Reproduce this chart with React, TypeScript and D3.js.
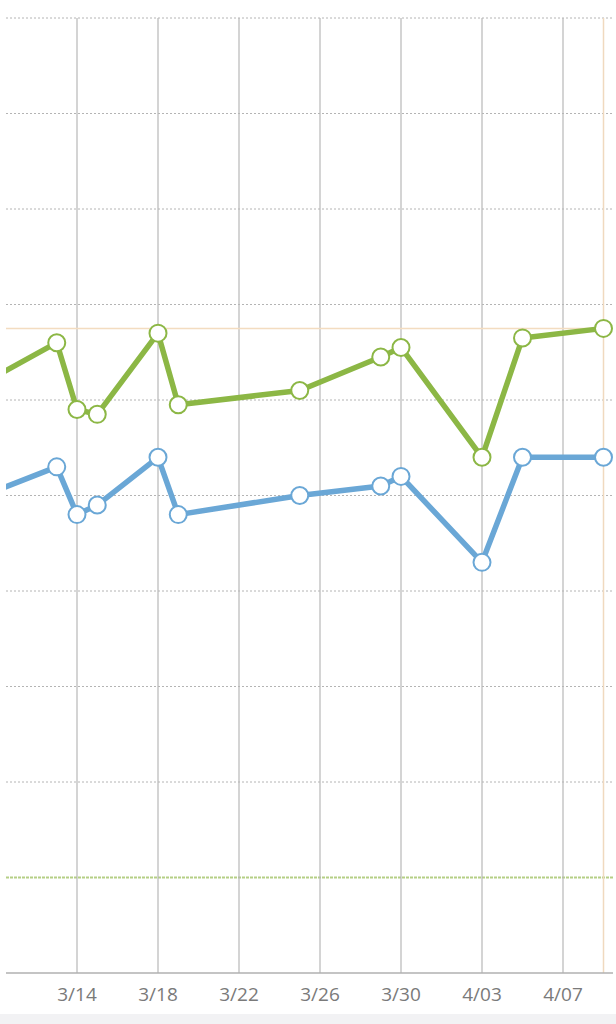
import React from "react";
import * as d3 from "d3";

const dates = ["2024-03-10", "2024-03-13", "2024-03-14", "2024-03-15", "2024-03-18", "2024-03-19", "2024-03-25", "2024-03-29", "2024-03-30", "2024-04-03", "2024-04-05", "2024-04-09"];
const greenValues = [125, 132, 118, 117, 134, 119, 122, 129, 131, 108, 133, 135];
const blueValues = [101, 106, 96, 98, 108, 96, 100, 102, 104, 86, 108, 108];
const tickDates = ["2024-03-14", "2024-03-18", "2024-03-22", "2024-03-26", "2024-03-30", "2024-04-03", "2024-04-07"];
const tickLabels = ["3/14", "3/18", "3/22", "3/26", "3/30", "4/03", "4/07"];
const yTicks = [20, 40, 60, 80, 100, 120, 140, 160, 180, 200];
const targetValue = 135;
const lowerValue = 20;
const todayDate = "2024-04-09";

const W = 616;
const H = 1024;
const left = 6;
const right = 613;
const top = 18;
const bottom = 973;

const parse = (s: string) => new Date(s + "T00:00:00Z");

export default function App() {
  const x = d3.scaleUtc().domain([parse("2024-03-14"), parse("2024-04-07")]).range([77, 563]);
  const y = d3.scaleLinear().domain([0, 200]).range([bottom, top]);

  const line = d3
    .line<number>()
    .x((_, i) => x(parse(dates[i])))
    .y((d) => y(d));

  const series = [
    { vals: greenValues, color: "#8cb745" },
    { vals: blueValues, color: "#6aa7d6" },
  ];

  return (
    <div style={{ position: "fixed", left: 0, top: 0, width: W, height: H, background: "#fff" }}>
      <svg width={W} height={H} style={{ display: "block" }}>
        <defs>
          <clipPath id="plot">
            <rect x={left} y={0} width={right - left} height={bottom} />
          </clipPath>
        </defs>
        <rect x={0} y={1014} width={W} height={10} fill="#f2f2f4" />
        {yTicks.map((t) => (
          <line
            key={t}
            x1={left}
            x2={right}
            y1={y(t)}
            y2={y(t)}
            stroke={t === lowerValue ? "#b5cf86" : "#b4b4b4"}
            strokeWidth={t === lowerValue ? 2 : 1}
            strokeDasharray={t === lowerValue ? "3,1" : "2,2"}
          />
        ))}
        {tickDates.map((d) => (
          <line key={d} x1={x(parse(d))} x2={x(parse(d))} y1={top} y2={bottom} stroke="#b8b8b8" strokeWidth={1.2} />
        ))}
        <line x1={x(parse(todayDate))} x2={x(parse(todayDate))} y1={top} y2={bottom} stroke="#f0d9bf" strokeWidth={1.5} />
        <line x1={left} x2={right} y1={y(targetValue)} y2={y(targetValue)} stroke="#f3dcc0" strokeWidth={1.5} />
        <line x1={left} x2={right} y1={bottom} y2={bottom} stroke="#b0b0b0" strokeWidth={1.5} />
        {tickDates.map((d, i) => (
          <text
            key={d}
            x={x(parse(d))}
            y={1001}
            textAnchor="middle"
            fontFamily="'Open Sans', Roboto, sans-serif"
            fontSize={19}
            fill="#7a7a7a"
          >
            {tickLabels[i]}
          </text>
        ))}
        <g clipPath="url(#plot)">
          {series.map((s, k) => (
            <g key={k}>
              <path d={line(s.vals) || ""} fill="none" stroke={s.color} strokeWidth={5.5} strokeLinejoin="round" />
              {s.vals.map((v, i) => (
                <circle key={i} cx={x(parse(dates[i]))} cy={y(v)} r={8.5} fill="#fff" stroke={s.color} strokeWidth={2} />
              ))}
            </g>
          ))}
        </g>
      </svg>
    </div>
  );
}
